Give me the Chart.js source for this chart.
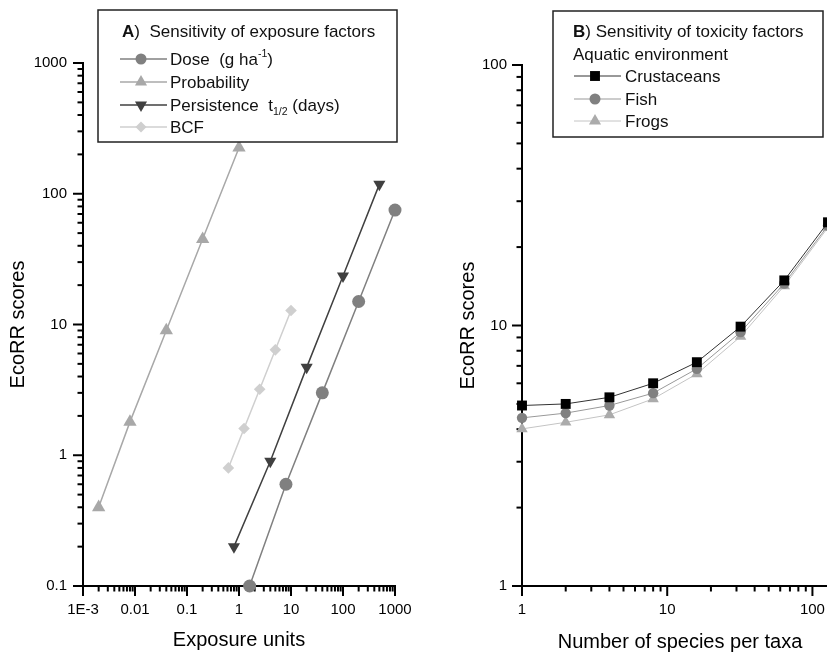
<!DOCTYPE html>
<html><head><meta charset="utf-8">
<script src="https://cdn.jsdelivr.net/npm/chart.js@4.4.0/dist/chart.umd.min.js"></script>
<style>
html,body{margin:0;padding:0;background:#fff;overflow:hidden;}
#wrap{position:relative;width:827px;height:654px;overflow:hidden;background:#fff;}
#cA{position:absolute;left:0;top:0;}
#cB{position:absolute;left:420px;top:0;}
</style></head><body>
<div id="wrap"><canvas id="cA" width="420" height="654"></canvas><canvas id="cB" width="440" height="654"></canvas></div>
<script>
// ---------- Panel A data ----------
const doseX = [1.6, 8, 40, 200, 1000];
const doseY = [0.1, 0.6, 3, 15, 75];
const probX = [0.002, 0.008, 0.04, 0.2, 1];
const probY = [0.4, 1.8, 9, 45, 225];
const persX = [0.8, 4, 20, 100, 500];
const persY = [0.2, 0.9, 4.7, 23.5, 118];
const bcfX = [0.625, 1.25, 2.5, 5, 10];
const bcfY = [0.8, 1.6, 3.2, 6.4, 12.8];
const xTickValsA = [0.001, 0.01, 0.1, 1, 10, 100, 1000];
const xTickLabelsA = ["1E-3", "0.01", "0.1", "1", "10", "100", "1000"];
const yTickValsA = [0.1, 1, 10, 100, 1000];
const yTickLabelsA = ["0.1", "1", "10", "100", "1000"];
// ---------- Panel B data ----------
const speciesX = [1, 2, 4, 8, 16, 32, 64, 128];
const crustY = [4.93, 5.0, 5.3, 6.0, 7.23, 9.9, 14.9, 24.9];
const fishY = [4.42, 4.61, 4.93, 5.5, 6.82, 9.43, 14.5, 24.2];
const frogY = [4.01, 4.25, 4.54, 5.23, 6.52, 9.07, 14.2, 23.8];
const xTickValsB = [1, 10, 100];
const xTickLabelsB = ["1", "10", "100"];
const yTickValsB = [1, 10, 100];
const yTickLabelsB = ["1", "10", "100"];

const FONT = "'Liberation Sans', Arial, Helvetica, sans-serif";
Chart.defaults.font.family = FONT;
Chart.defaults.color = '#000';

function pts(xs, ys) { return xs.map((x, i) => ({x: x, y: ys[i]})); }
function logTicks(min, max) {
  const t = [];
  for (let e = Math.floor(Math.log10(min)) ; e <= Math.ceil(Math.log10(max)); e++) {
    for (let k = 1; k < 10; k++) {
      const v = parseFloat((k * Math.pow(10, e)).toPrecision(6));
      if (v >= min * 0.9999 && v <= max * 1.0001) t.push(v);
    }
  }
  return t;
}
function isMajor(v) { const l = Math.log10(v); return Math.abs(l - Math.round(l)) < 1e-6; }
function labelFor(vals, labels) {
  return function (v) {
    for (let i = 0; i < vals.length; i++) {
      if (Math.abs(Math.log10(vals[i]) - Math.log10(v)) < 1e-6) return labels[i];
    }
    return '';
  };
}
function axis(pos, min, max, vals, labels, size, title, titlePad, tickPad) {
  return {
    type: 'logarithmic', position: pos, min: min, max: max,
    afterBuildTicks: s => { s.ticks = logTicks(s.min, s.max).map(v => ({value: v, major: isMajor(v)})); },
    afterFit: s => {
      if (pos === 'bottom') s.height = size; else s.width = size;
      s.paddingLeft = 0; s.paddingRight = 0; s.paddingTop = 0; s.paddingBottom = 0;
    },
    grid: {display: false, drawTicks: false},
    border: {display: true, color: '#000', width: 2},
    ticks: {autoSkip: false, maxRotation: 0, minRotation: 0, padding: tickPad, color: '#000',
      font: {family: FONT, size: 15}, callback: labelFor(vals, labels)},
    title: {display: true, text: title, color: '#000', font: {family: FONT, size: 20}, padding: titlePad}
  };
}

// draw tick marks from scales
const tickPlugin = {
  id: 'ticksDraw',
  beforeDatasetsDraw(chart) {
    const ctx = chart.ctx, ca = chart.chartArea;
    ctx.save();
    ctx.strokeStyle = '#000';
    ctx.lineWidth = 2;
    Object.values(chart.scales).forEach(s => {
      s.ticks.forEach(t => {
        const len = isMajor(t.value) ? 10 : 5.5;
        const p = s.getPixelForValue(t.value);
        ctx.beginPath();
        if (s.isHorizontal()) { ctx.moveTo(p, ca.bottom); ctx.lineTo(p, ca.bottom + len); }
        else { ctx.moveTo(ca.left, p); ctx.lineTo(ca.left - len, p); }
        ctx.stroke();
      });
    });
    ctx.restore();
  }
};

function drawMarker(ctx, style, x, y, r, fill) {
  ctx.save();
  ctx.fillStyle = fill;
  ctx.beginPath();
  if (style === 'circle') ctx.arc(x, y, r, 0, Math.PI * 2);
  else if (style === 'triangle') { ctx.moveTo(x, y - r); ctx.lineTo(x + r * 0.866, y + r * 0.5); ctx.lineTo(x - r * 0.866, y + r * 0.5); ctx.closePath(); }
  else if (style === 'triangleDown') { ctx.moveTo(x, y + r); ctx.lineTo(x + r * 0.866, y - r * 0.5); ctx.lineTo(x - r * 0.866, y - r * 0.5); ctx.closePath(); }
  else if (style === 'diamond') { ctx.moveTo(x, y - r); ctx.lineTo(x + r, y); ctx.lineTo(x, y + r); ctx.lineTo(x - r, y); ctx.closePath(); }
  else if (style === 'square') { ctx.rect(x - r * 0.707, y - r * 0.707, r * 1.414, r * 1.414); }
  ctx.fill();
  ctx.restore();
}
// draw text made of segments: [text, mode] mode 0 normal, 1 superscript, -1 subscript, 2 bold
function drawSegments(ctx, segs, x, y, size) {
  let cx = x;
  segs.forEach(sg => {
    const mode = sg[1];
    let fs = size, dy = 0, w = 'normal';
    if (mode === 1) { fs = size * 0.62; dy = -size * 0.45; }
    if (mode === -1) { fs = size * 0.62; dy = size * 0.22; }
    if (mode === 2) { w = 'bold'; }
    ctx.font = w + ' ' + fs + 'px ' + FONT;
    ctx.fillText(sg[0], cx, y + dy);
    cx += ctx.measureText(sg[0]).width;
  });
}
function makeLegendPlugin(cfg) {
  return {
    id: 'boxLegend',
    afterDraw(chart) {
      const ctx = chart.ctx, ox = cfg.offsetX;
      ctx.save();
      ctx.fillStyle = '#fff';
      ctx.fillRect(cfg.box[0] - ox, cfg.box[1], cfg.box[2] - cfg.box[0], cfg.box[3] - cfg.box[1]);
      ctx.strokeStyle = '#222';
      ctx.lineWidth = 1.5;
      ctx.strokeRect(cfg.box[0] - ox, cfg.box[1], cfg.box[2] - cfg.box[0], cfg.box[3] - cfg.box[1]);
      ctx.fillStyle = '#111';
      ctx.textBaseline = 'alphabetic';
      ctx.textAlign = 'left';
      cfg.header.forEach(h => drawSegments(ctx, h.segs, h.x - ox, h.y, 17));
      cfg.rows.forEach((r, i) => {
        const ds = chart.data.datasets[i];
        const my = r.y - 6;
        ctx.strokeStyle = ds.borderColor;
        ctx.lineWidth = ds.borderWidth;
        ctx.beginPath();
        ctx.moveTo(cfg.line[0] - ox, my); ctx.lineTo(cfg.line[1] - ox, my);
        ctx.stroke();
        drawMarker(ctx, r.marker, cfg.mx - ox, my, r.r, ds.pointBackgroundColor);
        ctx.fillStyle = '#111';
        drawSegments(ctx, r.segs, cfg.tx - ox, r.y, 17);
      });
      ctx.restore();
    }
  };
}

const legendA = makeLegendPlugin({
  offsetX: 0, box: [98, 10, 397, 142], line: [120, 167], mx: 141, tx: 170,
  header: [{x: 122, y: 37, segs: [["A", 2], [")  Sensitivity of exposure factors", 0]]}],
  rows: [
    {y: 65, marker: 'circle', r: 5.5, segs: [["Dose  (g ha", 0], ["-1", 1], [")", 0]]},
    {y: 88, marker: 'triangle', r: 7, segs: [["Probability", 0]]},
    {y: 111, marker: 'triangleDown', r: 7, segs: [["Persistence  t", 0], ["1/2", -1], [" (days)", 0]]},
    {y: 133, marker: 'diamond', r: 5.5, segs: [["BCF", 0]]}
  ]
});
const legendB = makeLegendPlugin({
  offsetX: 420, box: [553, 11, 823, 137], line: [574, 621], mx: 595, tx: 625,
  header: [{x: 573, y: 37, segs: [["B", 2], [") Sensitivity of toxicity factors", 0]]},
           {x: 573, y: 60, segs: [["Aquatic environment", 0]]}],
  rows: [
    {y: 82, marker: 'square', r: 7, segs: [["Crustaceans", 0]]},
    {y: 105, marker: 'circle', r: 5.5, segs: [["Fish", 0]]},
    {y: 127, marker: 'triangle', r: 7, segs: [["Frogs", 0]]}
  ]
});

function ds(label, xs, ys, color, lineColor, lw, style, r, rot) {
  return {label: label, data: pts(xs, ys), showLine: true, borderColor: lineColor, borderWidth: lw,
    backgroundColor: color, pointBackgroundColor: color, pointBorderColor: color, pointBorderWidth: 0,
    pointStyle: style, pointRadius: r, pointHoverRadius: r, pointRotation: rot || 0, clip: false, tension: 0};
}

new Chart(document.getElementById('cA'), {
  type: 'scatter',
  data: {datasets: [
    ds('Dose (g ha-1)', doseX, doseY, '#808080', '#808080', 1.5, 'circle', 6.5),
    ds('Probability', probX, probY, '#a8a8a8', '#a8a8a8', 1.5, 'triangle', 7.7),
    ds('Persistence t1/2 (days)', persX, persY, '#404040', '#404040', 1.5, 'triangle', 7, 180),
    ds('BCF', bcfX, bcfY, '#cfcfcf', '#cfcfcf', 1.5, 'rectRot', 5.8)
  ]},
  options: {
    responsive: false, animation: false,
    layout: {padding: {top: 63, right: 25, left: 0, bottom: 0}},
    plugins: {legend: {display: false}, tooltip: {enabled: false}},
    scales: {
      x: axis('bottom', 0.001, 1000, xTickValsA, xTickLabelsA, 68, 'Exposure units', {top: 0, bottom: 2}, 15),
      y: axis('left', 0.1, 1000, yTickValsA, yTickLabelsA, 83, 'EcoRR scores', {top: 6, bottom: 0}, 16)
    }
  },
  plugins: [tickPlugin, legendA]
});

new Chart(document.getElementById('cB'), {
  type: 'scatter',
  data: {datasets: [
    ds('Crustaceans', speciesX, crustY, '#000000', '#333333', 1, 'rect', 7),
    ds('Fish', speciesX, fishY, '#808080', '#999999', 1, 'circle', 5.2),
    ds('Frogs', speciesX, frogY, '#ababab', '#c4c4c4', 1, 'triangle', 6.6)
  ]},
  options: {
    responsive: false, animation: false,
    layout: {padding: {top: 65, right: 22, left: 0, bottom: 0}},
    plugins: {legend: {display: false}, tooltip: {enabled: false}},
    scales: {
      x: axis('bottom', 1, 150, xTickValsB, xTickLabelsB, 68, 'Number of species per taxa', {top: 0, bottom: 0}, 15),
      y: axis('left', 1, 100, yTickValsB, yTickLabelsB, 102, 'EcoRR scores', {top: 36, bottom: 0}, 15)
    }
  },
  plugins: [tickPlugin, legendB]
});
</script>
</body></html>
